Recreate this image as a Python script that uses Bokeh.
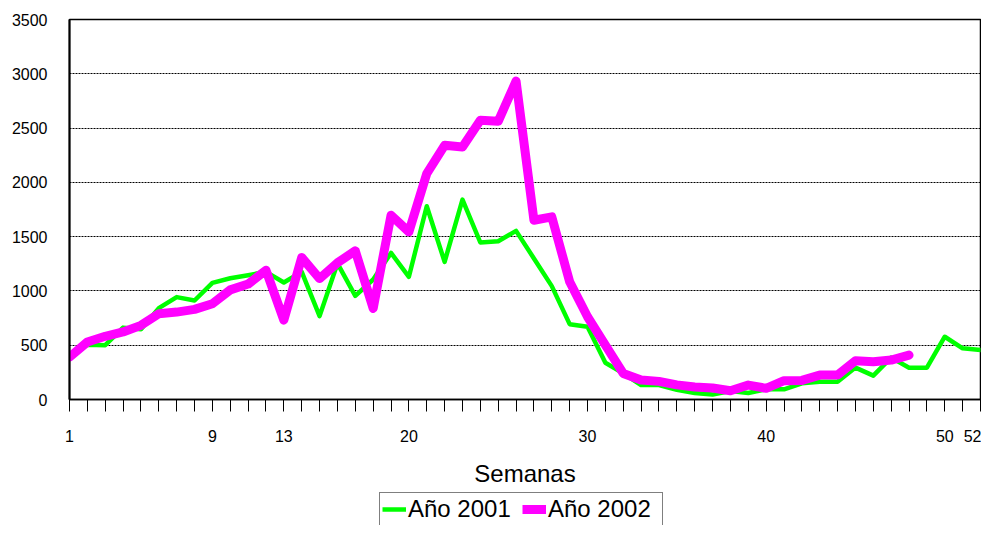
from bokeh.plotting import figure
from bokeh.layouts import column
from bokeh.models import FixedTicker, Legend, LegendItem, Range1d
from bokeh.embed import file_html
from bokeh.resources import INLINE

weeks_2001 = list(range(1, 53))
cases_2001 = [408, 505, 500, 662, 646, 842, 943, 912, 1074, 1117,
              1145, 1176, 1078, 1176, 768, 1253, 955, 1105, 1350, 1130,
              1780, 1268, 1841, 1446, 1458, 1553, 1299, 1044, 694, 670,
              339, 241, 133, 133, 90, 60, 45, 78, 60, 94,
              94, 149, 164, 164, 294, 220, 386, 293, 293, 578,
              471, 455]
weeks_2002 = list(range(1, 49))
cases_2002 = [390, 530, 582, 622, 683, 790, 805, 830, 882, 1010,
              1063, 1191, 731, 1308, 1114, 1259, 1369, 839, 1697, 1544,
              2081, 2341, 2325, 2571, 2562, 2933, 1651, 1682, 1084, 762,
              501, 240, 179, 167, 135, 115, 106, 80, 133, 103,
              173, 176, 225, 225, 357, 348, 363, 409]
x_labels = [1, 9, 13, 20, 30, 40, 50, 52]
y_ticks = [0, 500, 1000, 1500, 2000, 2500, 3000, 3500]
series_labels = ["Año 2001", "Año 2002"]
series_colors = ["#00FF00", "#FF00FF"]
series_widths = [4.5, 9]

FONT = "Liberation Sans"
W = 981

p = figure(width=W, height=492, output_backend="svg", toolbar_location=None,
           x_range=Range1d(1, 52), y_range=Range1d(0, 3500),
           min_border_left=69, min_border_right=1, min_border_top=19, min_border_bottom=93)
p.background_fill_color = "white"
p.border_fill_color = "white"
p.outline_line_color = "black"
p.outline_line_width = 1.5

# grid
p.xgrid.grid_line_color = None
p.ygrid.ticker = FixedTicker(ticks=y_ticks)
p.ygrid.grid_line_color = "black"
p.ygrid.grid_line_dash = "2 1"
p.ygrid.grid_line_width = 1

# x axis
p.xaxis.ticker = FixedTicker(ticks=weeks_2001)
p.xaxis.major_label_overrides = {w: (str(w) if w in x_labels else "") for w in weeks_2001}
p.xaxis.major_tick_out = 12
p.xaxis.major_tick_in = 0
p.xaxis.minor_tick_line_color = None
p.xaxis.major_tick_line_color = "black"
p.xaxis.axis_line_color = "black"
p.xaxis.axis_line_width = 1.5
p.xaxis.major_label_text_font = FONT
p.xaxis.major_label_text_font_size = "16px"
p.xaxis.major_label_text_color = "black"
p.xaxis.major_label_standoff = 18
p.xaxis.axis_label = "Semanas"
p.xaxis.axis_label_text_font = FONT
p.xaxis.axis_label_text_font_size = "24px"
p.xaxis.axis_label_text_font_style = "normal"
p.xaxis.axis_label_text_color = "black"
p.xaxis.axis_label_standoff = 15

# y axis
p.yaxis.ticker = FixedTicker(ticks=y_ticks)
p.yaxis.major_tick_out = 0
p.yaxis.major_tick_in = 0
p.yaxis.minor_tick_line_color = None
p.yaxis.axis_line_color = "black"
p.yaxis.axis_line_width = 2
p.yaxis.major_label_text_font = FONT
p.yaxis.major_label_text_font_size = "16px"
p.yaxis.major_label_text_color = "black"
p.yaxis.major_label_standoff = 22

p.line(weeks_2001, cases_2001, line_color=series_colors[0], line_width=series_widths[0],
       line_join="round", line_cap="round")
p.line(weeks_2002, cases_2002, line_color=series_colors[1], line_width=series_widths[1],
       line_join="round", line_cap="round")

# legend strip (separate figure so the legend can sit below the axis title);
# its series are drawn outside its tiny view range, only the legend shows
lg = figure(width=W, height=33, output_backend="svg", toolbar_location=None,
            x_range=Range1d(-2, -1), y_range=Range1d(-2, -1),
            min_border_left=0, min_border_right=0, min_border_top=0, min_border_bottom=0)
lg.axis.visible = False
lg.grid.grid_line_color = None
lg.outline_line_color = None
lg.background_fill_color = "white"
lg.border_fill_color = "white"
items = []
for lab, col, wd, xs, ys in zip(series_labels, series_colors, series_widths,
                                [weeks_2001, weeks_2002], [cases_2001, cases_2002]):
    r = lg.line(xs, ys, line_color=col, line_width=wd, line_cap="butt")
    items.append(LegendItem(label=lab, renderers=[r]))

legend = Legend(items=items, orientation="horizontal", location=(310, -1),
                label_text_font=FONT, label_text_font_size="24px",
                label_text_color="black", label_width=112,
                glyph_width=24, glyph_height=20, label_standoff=2, spacing=2,
                padding=2, margin=0,
                border_line_color="black", border_line_width=1.5,
                background_fill_color="white", background_fill_alpha=1)
lg.add_layout(legend, "center")

layout = column(p, lg, spacing=0)
open("out.html", "w").write(file_html(layout, INLINE))
